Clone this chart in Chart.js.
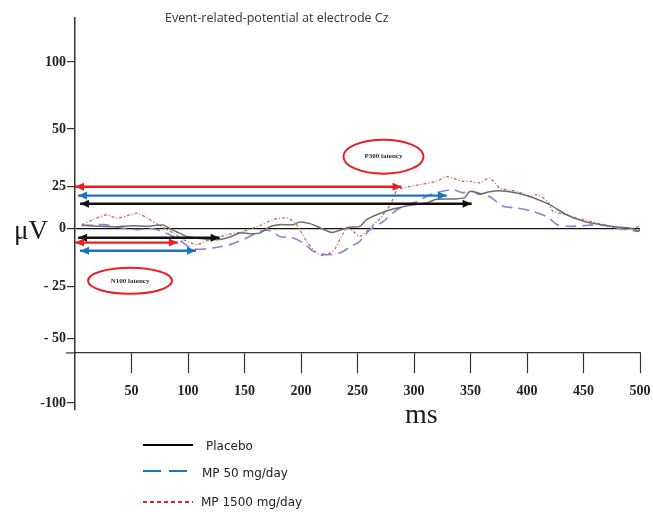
<!DOCTYPE html>
<html>
<head>
<meta charset="utf-8">
<script src="https://cdn.jsdelivr.net/npm/chart.js@4.4.1/dist/chart.umd.min.js"></script>
<style>
  html, body { margin: 0; padding: 0; background: #fff; }
  #wrap { width: 653px; height: 512px; position: relative; }
</style>
</head>
<body>
<div id="wrap"><canvas id="erp" width="653" height="512"></canvas></div>
<script>
// Grand-average ERP at Cz, [time ms, amplitude µV]
const placebo = [
  [6,2],[20,1.5],[35,1.2],[50,1.8],[65,1.5],[78,2.2],[84,0],[92,-2.5],[99,-4.6],
  [113,-6],[128,-6.5],[137,-5],[146,-2.5],[155,-3],[164,-2.5],[173,1.4],[181,2.4],
  [193,2.4],[199,4],[208,3],[217,0.5],[227,-2.2],[235,-0.8],[243,0.8],[252,1.4],
  [258,5.4],[267,8.3],[279,11.3],[288,12.7],[296,13.9],[311,15.3],[320,17.5],
  [336,17.7],[345,18.5],[348,21.5],[352,22.2],[358,20.5],[367,22],[376,22.6],
  [391,21.2],[405,18.6],[420,14.3],[435,8.3],[450,4.4],[465,2.4],[480,1],[494,0],
  [498,-1.5],[500,-0.5]
];
const mp50 = [
  [6,1.8],[25,2.4],[40,0.6],[55,-0.6],[69,0],[84,-3.6],[93,-7],[104,-12],[122,-11.5],
  [137,-9.5],[149,-6.5],[164,-1.6],[173,-1.2],[181,-4.6],[193,-5.5],[202,-8.5],
  [211,-13.5],[223,-15.5],[235,-14.3],[243,-11],[252,-7.5],[261,-0.6],[273,4.4],
  [281,9.3],[290,13.3],[303,16.3],[314,20.2],[326,22.5],[335,23.2],[343,21.5],
  [352,22.2],[367,19],[379,13.3],[391,12.3],[405,10.3],[418,7],[427,2.4],[438,1.4],
  [450,1.8],[465,2.4],[480,0.4],[497,-1.6],[500,-1]
];
const mp1500 = [
  [6,2.4],[16,5.4],[28,8.3],[37,6.3],[49,8.3],[55,9.3],[64,6.3],[75,1.8],[87,-2.6],
  [96,-6.5],[108,-9.5],[119,-6.5],[135,-3.6],[149,-1.6],[164,2],[175,5.4],[188,6.3],
  [196,2.4],[205,-7.5],[214,-14.5],[221,-16],[230,-12],[235,-5.5],[241,0.4],[246,-1.5],
  [252,-4.6],[261,0.4],[270,6.3],[279,14.3],[285,23.2],[290,24.2],[305,26.2],
  [320,28.2],[329,31],[343,28.2],[350,28.2],[358,27.3],[367,30.2],[376,24.2],
  [391,22.2],[403,19.3],[409,20.2],[418,16.3],[423,10.3],[435,8.3],[444,6.3],
  [456,4.4],[473,1.4],[485,-0.6],[500,1.4]
];

// Latencies in ms: placebo, MP 50, MP 1500
const groupNames = ['Placebo', 'MP 50 mg/day', 'MP 1500 mg/day'];
const p300Latency = [351, 329, 289];
const n100Latency = [128, 107, 91];

// Hand-drawn amplitude axis: where each label sits, and what it says
const yTickAt = [99.3, 59.4, 25, 0, -34.4, -65.5, -103.8];
const yTickText = ['100', '50', '25', '0', '- 25', '- 50', '-100'];
const xTicks = [50, 100, 150, 200, 250, 300, 350, 400, 450, 500];

const toXY = arr => arr.map(([x, y]) => ({ x, y }));

// latency arrows: [start ms, level µV, colour]
const arrowStyle = {
  p300: [[4.4, 14.9, '#111111'], [2.7, 19.7, '#1b75bc'], [0, 25, '#ee1c24']],
  n100: [[2.7, -5.4, '#111111'], [4.4, -13.1, '#1b75bc'], [0, -8.3, '#ee1c24']]
};

const curveDatasets = [
  { label: groupNames[0], data: toXY(placebo), borderColor: '#6e6e6e', borderWidth: 1.5, borderDash: [] },
  { label: groupNames[1], data: toXY(mp50), borderColor: '#8686d2', borderWidth: 1.6, borderDash: [11, 6] },
  { label: groupNames[2], data: toXY(mp1500), borderColor: '#c46a6a', borderWidth: 1.3, borderDash: [3, 2, 1, 2] }
].map(d => Object.assign(d, { pointRadius: 0, tension: 0.25, fill: false, order: 2 }));

const arrowDatasets = [];
[0, 1, 2].forEach(i => {
  const [s1, l1, c1] = arrowStyle.p300[i];
  arrowDatasets.push({ label: 'p300-' + i, isArrow: true, data: [{ x: s1, y: l1 }, { x: p300Latency[i], y: l1 }],
    borderColor: c1, backgroundColor: c1, borderWidth: 2.4, pointRadius: 0, order: 1 });
  const [s2, l2, c2] = arrowStyle.n100[i];
  arrowDatasets.push({ label: 'n100-' + i, isArrow: true, data: [{ x: s2, y: l2 }, { x: n100Latency[i], y: l2 }],
    borderColor: c2, backgroundColor: c2, borderWidth: 2.4, pointRadius: 0, order: 1 });
});

const serif = '"Liberation Serif", "DejaVu Serif", serif';

const decorations = {
  id: 'decorations',
  afterDatasetsDraw(chart) {
    const { ctx, scales: { x, y } } = chart;
    ctx.save();

    // arrowheads at both ends of every latency arrow
    chart.data.datasets.forEach((ds, di) => {
      if (!ds.isArrow) return;
      const pts = chart.getDatasetMeta(di).data;
      const a = pts[0], b = pts[pts.length - 1];
      ctx.fillStyle = ds.borderColor;
      [[a.x, a.y, -1], [b.x, b.y, 1]].forEach(([px, py, dir]) => {
        ctx.beginPath();
        ctx.moveTo(px, py);
        ctx.lineTo(px - dir * 9, py - 4);
        ctx.lineTo(px - dir * 9, py + 4);
        ctx.closePath();
        ctx.fill();
      });
    });

    // latency labels in ellipses
    const ellipse = (tx, vy, rx, ry, text) => {
      const cx = x.getPixelForValue(tx), cy = y.getPixelForValue(vy);
      ctx.beginPath();
      ctx.ellipse(cx, cy, rx, ry, 0, 0, Math.PI * 2);
      ctx.strokeStyle = '#ee1c24';
      ctx.lineWidth = 2;
      ctx.stroke();
      ctx.fillStyle = '#2a2a40';
      ctx.font = 'bold 7px ' + serif;
      ctx.textAlign = 'center';
      ctx.textBaseline = 'middle';
      ctx.fillText(text, cx, cy);
    };
    ellipse(273, 42.9, 40, 17, 'P300 latency');
    ellipse(48.7, -31, 42, 13, 'N100 latency');

    // short stub of the time axis left of the amplitude axis
    const ay = y.getPixelForValue(-74);
    ctx.beginPath();
    ctx.moveTo(x.left - 9, ay);
    ctx.lineTo(x.left, ay);
    ctx.strokeStyle = '#333';
    ctx.lineWidth = 1.2;
    ctx.stroke();

    // axis names
    ctx.fillStyle = '#1a1a1a';
    ctx.textBaseline = 'middle';
    ctx.textAlign = 'left';
    ctx.font = '27px ' + serif;
    ctx.fillText('μV', 14, 232);
    ctx.font = '28px ' + serif;
    ctx.fillText('ms', 405, 416);

    // title
    ctx.fillStyle = '#333';
    ctx.font = '12.5px "Open Sans", "DejaVu Sans", sans-serif';
    ctx.fillText('Event-related-potential at electrode Cz', 165, 18);

    // legend
    const rows = [
      { y: 445, color: '#000', dash: [], w: 2, tx: 206, ty: 447 },
      { y: 471, color: '#1b75bc', dash: [18, 8], w: 2.2, tx: 202, ty: 474 },
      { y: 502, color: '#ee1c24', dash: [4, 3], w: 2, tx: 201, ty: 503 }
    ];
    ctx.font = '12px "DejaVu Sans", sans-serif';
    rows.forEach((r, i) => {
      ctx.beginPath();
      ctx.setLineDash(r.dash);
      ctx.moveTo(143, r.y);
      ctx.lineTo(i === 1 ? 188 : 193, r.y);
      ctx.strokeStyle = r.color;
      ctx.lineWidth = r.w;
      ctx.stroke();
      ctx.setLineDash([]);
      ctx.fillStyle = '#222';
      ctx.fillText(groupNames[i], r.tx, r.ty);
    });
    ctx.restore();
  }
};

new Chart(document.getElementById('erp'), {
  type: 'line',
  data: { datasets: [...curveDatasets, ...arrowDatasets] },
  options: {
    responsive: false,
    animation: false,
    layout: { padding: { left: 0, top: 18, right: 13, bottom: 102 } },
    plugins: { legend: { display: false }, title: { display: false }, tooltip: { enabled: false } },
    scales: {
      x: {
        type: 'linear',
        min: 0, max: 500,
        position: { y: -74 },
        afterBuildTicks: s => { s.ticks = xTicks.map(v => ({ value: v })); },
        afterFit: s => { s.paddingLeft = 0; s.paddingRight = 0; },
        ticks: { font: { family: serif, size: 14, weight: 'bold' }, color: '#222', padding: 10, maxRotation: 0 },
        grid: { drawOnChartArea: false, drawTicks: true, tickLength: 20, tickColor: '#333', tickWidth: 1.2 },
        border: { display: true, color: '#333', width: 1.2 }
      },
      y: {
        type: 'linear',
        min: -108, max: 125.5,
        afterFit: s => { s.width = 75; s.paddingTop = 0; s.paddingBottom = 0; },
        afterBuildTicks: s => { s.ticks = yTickAt.map(v => ({ value: v })); },
        ticks: {
          callback: (v, i) => yTickText[i],
          font: { family: serif, size: 14, weight: 'bold' }, color: '#222', padding: 1
        },
        grid: {
          color: c => (c.tick && c.tick.value === 0 ? '#111' : 'rgba(0,0,0,0)'),
          lineWidth: 1.2,
          tickColor: '#333', tickLength: 8, tickWidth: 1.2
        },
        border: { display: true, color: '#333', width: 1.5 }
      }
    }
  },
  plugins: [decorations]
});
</script>
</body>
</html>
